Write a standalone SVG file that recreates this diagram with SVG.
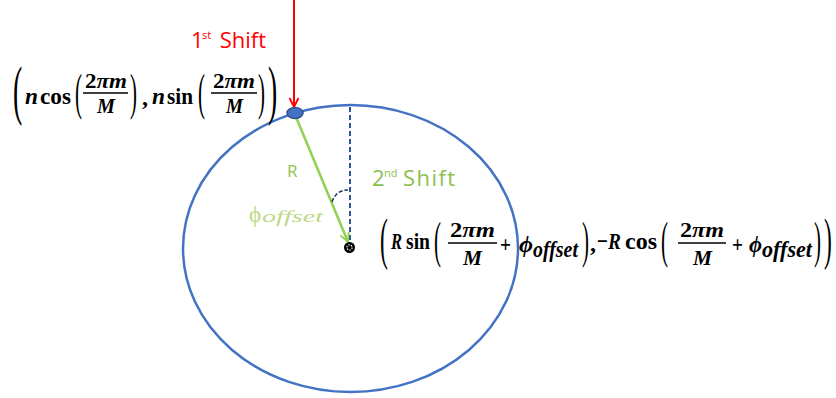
<svg xmlns="http://www.w3.org/2000/svg" width="836" height="398" viewBox="0 0 836 398">
  <style>
    .m { font-family: "Liberation Serif", "Times New Roman", serif; font-weight: bold; font-size: 24px; fill: #000; }
    .f { font-size: 22px; }
    .i { font-style: italic; }
    .br { font-family: "Liberation Serif", "Times New Roman", serif; font-weight: normal; fill: #000; }
    .lbl { font-family: "Open Sans", "Liberation Sans", sans-serif; }
    .red { fill: #FF0000; }
    .grn { fill: #8DC04E; }
    .bar { stroke: #000; stroke-width: 1.6; }
  </style>
  <defs>
    <marker id="ahRed" markerWidth="12" markerHeight="12" refX="10" refY="5" orient="auto" markerUnits="userSpaceOnUse" viewBox="0 0 12 10">
      <path d="M1,0.5 L10,5 L1,9.5" fill="none" stroke="#FF0000" stroke-width="1.8"/>
    </marker>
    <marker id="ahGrn" markerWidth="12" markerHeight="12" refX="10" refY="5" orient="auto" markerUnits="userSpaceOnUse" viewBox="0 0 12 10">
      <path d="M1,0.5 L10,5 L1,9.5" fill="none" stroke="#92D050" stroke-width="1.8"/>
    </marker>
  </defs>

  <rect width="836" height="398" fill="#FFFFFF"/>

  <g id="orbit">
    <ellipse cx="350.5" cy="248.5" rx="167.5" ry="143.5" fill="none" stroke="#4472C4" stroke-width="2.5"/>
  </g>

  <g id="connectors">
    <line x1="294" y1="0" x2="294" y2="107" stroke="#FF0000" stroke-width="2" marker-end="url(#ahRed)"/>
    <line x1="350" y1="107" x2="350" y2="240" stroke="#2F5597" stroke-width="2" stroke-dasharray="5 3"/>
    <line x1="296" y1="117" x2="348" y2="242" stroke="#92D050" stroke-width="2.5" marker-end="url(#ahGrn)"/>
    <path d="M332,202 Q336,190 348,190" fill="none" stroke="#1F3864" stroke-width="1.5" stroke-dasharray="4 2"/>
  </g>

  <g id="point">
    <ellipse cx="295" cy="113" rx="8" ry="5.5" fill="#4472C4" stroke="#2F528F" stroke-width="1.5"/>
  </g>

  <g id="center">
    <circle cx="349.5" cy="247.5" r="5.5" fill="#000"/>
    <circle cx="349.5" cy="247.5" r="2.6" fill="none" stroke="#FFF" stroke-width="1.2" stroke-dasharray="1.4 1.3"/>
  </g>

  <g id="label-first-shift">
    <text class="lbl red" x="191" y="48" font-size="22">1<tspan x="202" dy="-9" font-size="11">st</tspan><tspan x="214" y="48"> Shift</tspan></text>
  </g>

  <g id="label-second-shift">
    <text class="lbl grn" x="372" y="186" font-size="22">2<tspan x="384" dy="-9" font-size="11">nd</tspan><tspan x="396" y="186" letter-spacing="1.4"> Shift</tspan></text>
  </g>

  <g id="label-R">
    <text class="lbl grn" x="287" y="177" font-size="17">R</text>
  </g>

  <g id="label-phi-offset">
    <text x="249" y="222" font-family="Liberation Serif, serif" font-size="23" fill="#BCD985">ϕ</text>
    <text x="262" y="222" font-family="Liberation Serif, serif" font-style="italic" font-size="17" fill="#BCD985" textLength="61" lengthAdjust="spacingAndGlyphs">offset</text>
  </g>

  <g id="formula-start">
    <text class="br" font-size="66" transform="translate(13,112) scale(0.42,1)">(</text>
    <text class="m i" x="25" y="104" textLength="13" lengthAdjust="spacingAndGlyphs">n</text>
    <text class="m" x="40" y="104" textLength="31" lengthAdjust="spacingAndGlyphs">cos</text>
    <text class="br" font-size="50" transform="translate(75,109) scale(0.42,1)">(</text>
    <text class="m f" x="85" y="88" textLength="42" lengthAdjust="spacingAndGlyphs">2<tspan class="i">πm</tspan></text>
    <line class="bar" x1="83" y1="93" x2="128" y2="93"/>
    <text class="m f i" x="97" y="113" textLength="18" lengthAdjust="spacingAndGlyphs">M</text>
    <text class="br" font-size="50" transform="translate(130,109) scale(0.42,1)">)</text>
    <text class="m" x="142" y="105">,</text>
    <text class="m i" x="152" y="104" textLength="13" lengthAdjust="spacingAndGlyphs">n</text>
    <text class="m" x="167" y="104" textLength="26" lengthAdjust="spacingAndGlyphs">sin</text>
    <text class="br" font-size="50" transform="translate(198,109) scale(0.42,1)">(</text>
    <text class="m f" x="213" y="88" textLength="42" lengthAdjust="spacingAndGlyphs">2<tspan class="i">πm</tspan></text>
    <line class="bar" x1="211" y1="93" x2="257" y2="93"/>
    <text class="m f i" x="226" y="113" textLength="17" lengthAdjust="spacingAndGlyphs">M</text>
    <text class="br" font-size="50" transform="translate(258,109) scale(0.42,1)">)</text>
    <text class="br" font-size="66" transform="translate(268,112) scale(0.42,1)">)</text>
  </g>

  <g id="formula-center">
    <text class="br" font-size="56" transform="translate(380,258) scale(0.42,1)">(</text>
    <text class="m i" x="391" y="249" textLength="11" lengthAdjust="spacingAndGlyphs">R</text>
    <text class="m" x="406" y="249" textLength="24" lengthAdjust="spacingAndGlyphs">sin</text>
    <text class="br" font-size="50" transform="translate(434,257) scale(0.42,1)">(</text>
    <text class="m f" x="450" y="237" textLength="45" lengthAdjust="spacingAndGlyphs">2<tspan class="i">πm</tspan></text>
    <line class="bar" x1="448" y1="243" x2="497" y2="243"/>
    <text class="m f i" x="463" y="265" textLength="19" lengthAdjust="spacingAndGlyphs">M</text>
    <text class="m" x="500" y="252" textLength="11" lengthAdjust="spacingAndGlyphs">+</text>
    <text class="m i" x="519" y="252" textLength="14" lengthAdjust="spacingAndGlyphs">ϕ</text>
    <text class="m i" x="533" y="257" font-size="16" textLength="45" lengthAdjust="spacingAndGlyphs">offset</text>
    <text class="br" font-size="50" transform="translate(582,257) scale(0.42,1)">)</text>
    <text class="m" x="590" y="251">,</text>
    <text class="m" x="597" y="249" textLength="24" lengthAdjust="spacingAndGlyphs">−<tspan class="i">R</tspan></text>
    <text class="m" x="625" y="249" textLength="32" lengthAdjust="spacingAndGlyphs">cos</text>
    <text class="br" font-size="50" transform="translate(661,257) scale(0.42,1)">(</text>
    <text class="m f" x="680" y="237" textLength="44" lengthAdjust="spacingAndGlyphs">2<tspan class="i">πm</tspan></text>
    <line class="bar" x1="678" y1="243" x2="726" y2="243"/>
    <text class="m f i" x="693" y="265" textLength="19" lengthAdjust="spacingAndGlyphs">M</text>
    <text class="m" x="732" y="252" textLength="11" lengthAdjust="spacingAndGlyphs">+</text>
    <text class="m i" x="749" y="252" textLength="13" lengthAdjust="spacingAndGlyphs">ϕ</text>
    <text class="m i" x="762" y="257" font-size="16" textLength="50" lengthAdjust="spacingAndGlyphs">offset</text>
    <text class="br" font-size="50" transform="translate(814,257) scale(0.42,1)">)</text>
    <text class="br" font-size="56" transform="translate(824,258) scale(0.42,1)">)</text>
  </g>
</svg>
